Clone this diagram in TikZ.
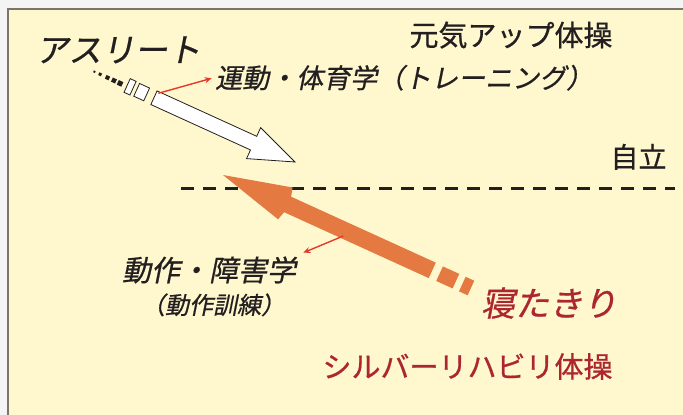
\documentclass[tikz,border=0pt]{standalone}
\usepackage{fontspec}
\newfontfamily\jp[FakeBold=0.7]{Noto Sans CJK JP}
\newfontfamily\jpit[FakeSlant=0.2,FakeBold=0.7]{Noto Sans CJK JP}
\usetikzlibrary{arrows.meta}
\definecolor{bgpaper}{RGB}{255,248,206}
\definecolor{outerbg}{RGB}{244,244,244}
\definecolor{framegray}{RGB}{123,116,106}
\definecolor{inkdark}{RGB}{35,31,32}
\definecolor{darkred}{RGB}{172,38,48}
\definecolor{arroworange}{RGB}{228,122,66}
\definecolor{linkred}{RGB}{232,56,42}
\tikzset{
  txt/.style={inner sep=0pt, anchor=base, text=inkdark},
  reftxt/.style={txt, text=darkred},
  whitearrow/.style={fill=white, draw=inkdark, line width=0.8pt, line join=miter},
  orangearrow/.style={fill=arroworange},
  dashline/.style={draw=inkdark, line width=3pt, dash pattern=on 13pt off 9pt},
  linkarrow/.style={draw=linkred, line width=1.4pt, -{Stealth[length=7pt,width=6pt]}}
}
\begin{document}
\begin{tikzpicture}[x=1pt,y=-1pt]
\useasboundingbox (0,0) rectangle (683,415);
\fill[outerbg] (0,0) rectangle (683,415);
\fill[bgpaper, draw=framegray, line width=1.2pt] (8,9) rectangle (700,430);

% dashed level line
\coordinate (dashL) at (181,188);
\coordinate (dashR) at (675,188);
\draw[dashline] (dashL) -- (dashR);

% white arrow (athlete -> up-level)
\begin{scope}[shift={(295,162)}, rotate=155.5]
  \draw[whitearrow] (0,0) -- (45.5,-17) -- (45.5,-7.5) -- (155,-7.5) -- (155,7.5) -- (45.5,7.5) -- (45.5,17) -- cycle;
  \draw[whitearrow] (163,-7) rectangle (174,7);
  \draw[whitearrow] (178,-7.5) rectangle (184.5,7.5);
  \fill[inkdark] (189.3,-3.5) rectangle (194.3,1.5);
  \fill[inkdark] (196.3,-3.2) rectangle (200.8,1.3);
  \fill[inkdark] (203.6,-3) rectangle (207.6,1);
  \fill[inkdark] (212.2,-2.5) rectangle (215.2,0.5);
  \fill[inkdark] (219,-2) rectangle (221,0);
\end{scope}

% orange arrow (bedridden -> independence)
\begin{scope}[shift={(223,175)}, rotate=-24.5]
  \fill[orangearrow] (0,0) -- (68.5,-17.5) -- (71,-8.5) -- (230,-8.5) -- (230,8.5) -- (71,8.5) -- (68.5,17.5) -- cycle;
  \fill[orangearrow] (238,-8) rectangle (256,8);
  \fill[orangearrow] (263,-8) rectangle (272.5,8);
\end{scope}

% texts
\node[txt, font=\jpit\fontsize{33}{36}\selectfont] (athlete) at (118,62) {アスリート};
\node[txt, font=\jp\fontsize{29}{32}\selectfont] (genki) at (511,46) {元気アップ体操};
\node[txt, font=\jpit\fontsize{27}{30}\selectfont, anchor=base west] (undo) at (215,88) {運動・体育学（トレーニング）};
\node[txt, font=\jp\fontsize{28}{30}\selectfont] (jiritsu) at (638.5,167.5) {自立};
\node[txt, font=\jpit\fontsize{29}{32}\selectfont] (dosa) at (209,281) {動作・障害学};
\node[txt, font=\jpit\fontsize{24}{26}\selectfont] (kunren) at (213,314) {（動作訓練）};
\node[reftxt, font=\jpit\fontsize{34}{36}\selectfont] (netakiri) at (549,316) {寝たきり};
\node[reftxt, font=\jp\fontsize{29}{32}\selectfont] (silver) at (467.5,377.5) {シルバーリハビリ体操};

% red pointer lines
\coordinate (wlink) at (158.3,93.3);
\coordinate (wtip) at (211.7,78.3);
\coordinate (olink) at (343.3,236);
\coordinate (otip) at (303.3,252.7);
\draw[linkarrow] (wlink) -- (wtip);
\draw[linkarrow] (olink) -- (otip);
\end{tikzpicture}
\end{document}
